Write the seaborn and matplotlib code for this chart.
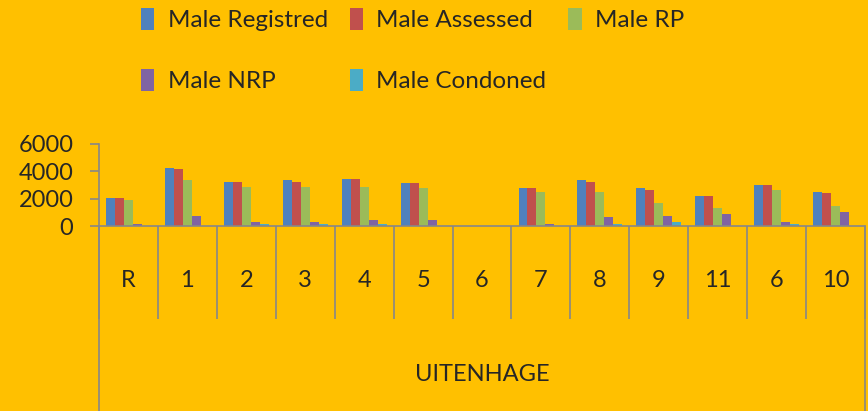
import numpy as np
import pandas as pd
import seaborn as sns
import matplotlib.pyplot as plt
from matplotlib.patches import Patch

categories = ["R", "1", "2", "3", "4", "5", "6", "7", "8", "9", "11", "6", "10"]
series = ["Male Registred", "Male Assessed", "Male RP", "Male NRP", "Male Condoned"]
male_registred = [2020, 4260, 3210, 3330, 3450, 3110, 0, 2750, 3330, 2750, 2170, 2990, 2510]
male_assessed = [2020, 4140, 3210, 3210, 3450, 3110, 0, 2750, 3210, 2630, 2170, 2990, 2390]
male_rp = [1920, 3330, 2850, 2850, 2850, 2750, 0, 2510, 2510, 1680, 1340, 2630, 1460]
male_nrp = [150, 750, 290, 290, 410, 410, 0, 170, 630, 750, 870, 290, 1000]
male_condoned = [0, 0, 170, 170, 170, 0, 0, 0, 170, 290, 0, 170, 0]
group_label = "UITENHAGE"
colors = ["#4F81BD", "#C0504D", "#9BBB59", "#8064A2", "#4BACC6"]

bg = "#FFC000"
grid_c = "#878787"

values = [male_registred, male_assessed, male_rp, male_nrp, male_condoned]
rows = []
for s, vals in zip(series, values):
    for i, v in enumerate(vals):
        rows.append({"pos": str(i), "series": s, "value": v})
df = pd.DataFrame(rows)

sns.set_style("white")
plt.rcParams["font.family"] = ["Lato", "DejaVu Sans"]

fig = plt.figure(figsize=(8.68, 4.11), dpi=100, facecolor=bg)
ax = fig.add_axes([99 / 868, 1 - 226 / 411, 766 / 868, 82 / 411])
ax.set_facecolor(bg)

sns.barplot(data=df, x="pos", y="value", hue="series", hue_order=series,
            order=[str(i) for i in range(len(categories))], palette=colors,
            width=0.76, linewidth=0, saturation=1, legend=False, ax=ax)

ax.set_xlim(-0.5, len(categories) - 0.5)
ax.set_ylim(0, 6000)
ax.set_yticks([0, 2000, 4000, 6000])
ax.set_yticklabels(["0", "2000", "4000", "6000"], fontsize=17)
ax.set_xticks(range(len(categories)))
ax.set_xticklabels(categories, fontsize=17)
ax.set_xticks(np.arange(-0.5, len(categories), 1.0), minor=True)
ax.tick_params(axis="x", which="major", bottom=True, length=0, pad=32)
ax.tick_params(axis="x", which="minor", bottom=True, length=67, width=1.2,
               color=grid_c, direction="out")
ax.tick_params(axis="y", left=True, length=6.5, width=1.2, color=grid_c,
               direction="out", pad=12)
ax.set_xlabel("")
ax.set_ylabel("")

for side in ["top", "right"]:
    ax.spines[side].set_visible(False)
for side in ["left", "bottom"]:
    ax.spines[side].set_color(grid_c)
    ax.spines[side].set_linewidth(1.2)

# outer frame of the category table below the axis
for xv in [-0.5, len(categories) - 0.5]:
    ax.axvline(xv, ymin=-2.3, ymax=0, color=grid_c, lw=1.2, clip_on=False)

ax.text(0.5, -1.81, group_label, transform=ax.transAxes, ha="center", va="center", fontsize=17)

handles = [Patch(facecolor=c, edgecolor="none") for c in colors]
order = [0, 3, 1, 4, 2]
fig.legend([handles[i] for i in order], [series[i] for i in order], ncol=3,
           loc="upper left", bbox_to_anchor=(141 / 868, 1 - 8 / 411), frameon=False,
           fontsize=17.5, borderaxespad=0, borderpad=0, labelspacing=1.55,
           handlelength=0.55, handleheight=1.0, handletextpad=0.55, columnspacing=0.9)

fig.savefig("out.png", dpi=100, facecolor=bg)
